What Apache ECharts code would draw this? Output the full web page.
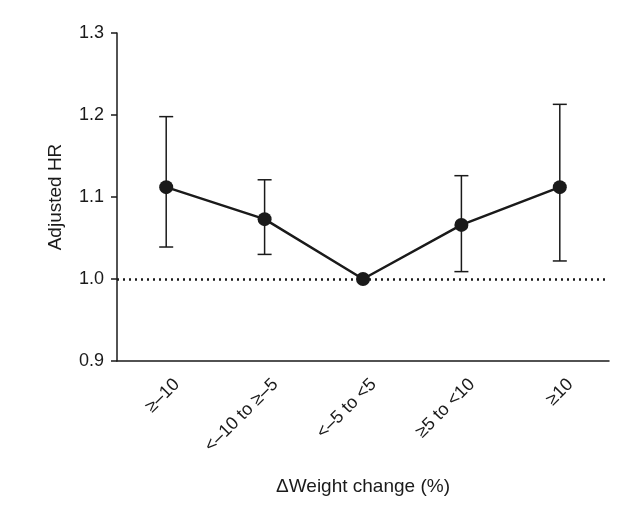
<!DOCTYPE html>
<html>
<head>
<meta charset="utf-8">
<script src="https://cdn.jsdelivr.net/npm/echarts@6/dist/echarts.min.js"></script>
<style>
  html, body { margin: 0; padding: 0; background: #fff; }
  #chart { width: 623px; height: 525px; }
</style>
</head>
<body>
<div id="chart"></div>
<script>
// groups of weight change, as printed under the axis
var categories = ['\u2265\u201310', '<\u201310 to \u2265\u20135', '<\u20135 to <5', '\u22655 to <10', '\u226510'];
var hr = [1.112, 1.073, 1.000, 1.066, 1.112];
var ciLow = [1.039, 1.030, 1.000, 1.009, 1.022];
var ciHigh = [1.198, 1.121, 1.000, 1.126, 1.213];
var yTicks = [0.9, 1.0, 1.1, 1.2, 1.3];

var ink = '#1a1a1a';
var font = 'Liberation Sans, Arial, sans-serif';

var chart = echarts.init(document.getElementById('chart'));

var errorData = categories.map(function (c, i) {
  return [i, ciLow[i], ciHigh[i]];
});

var option = {
  animation: false,
  grid: { left: 117, right: 14, top: 33, bottom: 164 },
  xAxis: {
    type: 'category',
    data: categories,
    boundaryGap: true,
    name: '\u0394Weight change (%)',
    nameLocation: 'middle',
    nameGap: 116,
    nameTextStyle: { color: ink, fontSize: 19, fontFamily: font },
    axisLine: { lineStyle: { color: ink, width: 1.5 } },
    axisTick: { alignWithLabel: true, length: 6, lineStyle: { color: ink, width: 1.5 } },
    axisLabel: {
      rotate: 45, color: ink, fontSize: 18, fontFamily: font, margin: 10,
      verticalAlign: 'top', padding: [6, 0, 0, 0]
    },
    splitLine: { show: false }
  },
  yAxis: {
    type: 'value',
    min: 0.9,
    max: 1.3,
    interval: 0.1,
    name: 'Adjusted HR',
    nameLocation: 'middle',
    nameGap: 52,
    nameTextStyle: { color: ink, fontSize: 19, fontFamily: font },
    axisLine: { show: true, lineStyle: { color: ink, width: 1.5 } },
    axisTick: { show: true, length: 6, lineStyle: { color: ink, width: 1.5 } },
    axisLabel: {
      color: ink, fontSize: 18, fontFamily: font, margin: 13,
      formatter: function (v) {
        var hit = yTicks.filter(function (t) { return Math.abs(t - v) < 1e-6; });
        return hit.length ? hit[0].toFixed(1) : '';
      }
    },
    splitLine: { show: false }
  },
  series: [
    {
      type: 'custom',
      data: errorData,
      z: 1,
      renderItem: function (params, api) {
        var x = api.value(0);
        var lo = api.coord([x, api.value(1)]);
        var hi = api.coord([x, api.value(2)]);
        if (Math.abs(hi[1] - lo[1]) < 0.5) return null;
        var w = 7;
        var style = { stroke: ink, lineWidth: 1.5 };
        return {
          type: 'group',
          children: [
            { type: 'line', shape: { x1: hi[0], y1: hi[1], x2: lo[0], y2: lo[1] }, style: style },
            { type: 'line', shape: { x1: hi[0] - w, y1: hi[1], x2: hi[0] + w, y2: hi[1] }, style: style },
            { type: 'line', shape: { x1: lo[0] - w, y1: lo[1], x2: lo[0] + w, y2: lo[1] }, style: style }
          ]
        };
      }
    },
    {
      type: 'line',
      data: hr,
      z: 3,
      symbol: 'circle',
      symbolSize: 14,
      lineStyle: { color: ink, width: 2.5 },
      itemStyle: { color: ink },
      markLine: {
        silent: true,
        symbol: 'none',
        label: { show: false },
        lineStyle: { color: ink, width: 2.5, type: [2, 4] },
        data: [{ yAxis: 1.0 }],
        z: 2
      }
    }
  ]
};

chart.setOption(option);
window.onresize = chart.resize;
</script>
</body>
</html>
